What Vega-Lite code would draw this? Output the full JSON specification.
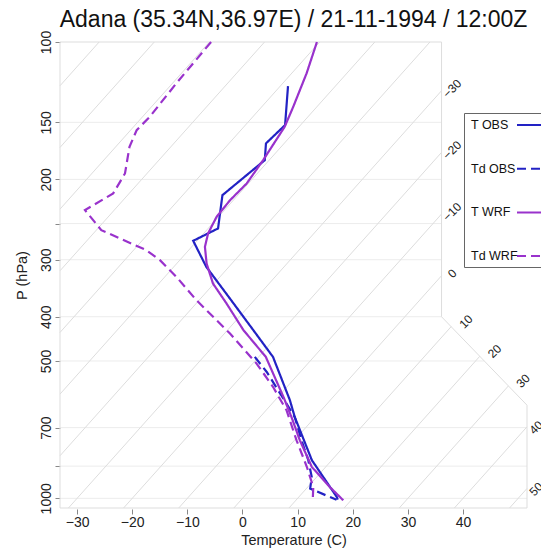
{
  "$schema": "https://vega.github.io/schema/vega-lite/v6.json",
  "width": 467,
  "height": 466,
  "autosize": {"type": "none"},
  "padding": {"left": 60, "top": 42, "right": 14, "bottom": 43},
  "title": {"text": "Adana (35.34N,36.97E) / 21-11-1994 / 12:00Z", "fontSize": 23, "font": "Liberation Sans", "fontWeight": "normal", "color": "#111111", "offset": -2, "anchor": "middle", "frame": "group"},
  "config": {
    "view": {"stroke": null},
    "font": "Liberation Sans",
    "axis": {"labelFont": "Liberation Sans", "titleFont": "Liberation Sans", "labelColor": "#222222", "titleColor": "#222222", "titleFontWeight": "normal", "labelFontSize": 14, "titleFontSize": 14.5, "grid": false, "domain": false, "tickColor": "#888888", "tickSize": 5, "labelFlush": false, "labelOverlap": false}
  },
  "datasets": {
    "frame": [
      {"i": 1, "xs": -33.1, "P": 1050},
      {"i": 2, "xs": -33.1, "P": 100},
      {"i": 3, "xs": 36.1, "P": 100},
      {"i": 4, "xs": 36.1, "P": 400},
      {"i": 5, "xs": 51.6, "P": 625},
      {"i": 6, "xs": 51.6, "P": 1050},
      {"i": 7, "xs": -33.1, "P": 1050}
    ],
    "isobars": [
      {"P": 1000, "xs": -33.1, "xs2": 51.6},
      {"P": 850, "xs": -33.1, "xs2": 51.6},
      {"P": 700, "xs": -33.1, "xs2": 51.6},
      {"P": 500, "xs": -33.1, "xs2": 43.85},
      {"P": 400, "xs": -33.1, "xs2": 36.1},
      {"P": 300, "xs": -33.1, "xs2": 36.1},
      {"P": 250, "xs": -33.1, "xs2": 36.1},
      {"P": 200, "xs": -33.1, "xs2": 36.1},
      {"P": 150, "xs": -33.1, "xs2": 36.1}
    ],
    "isotherms": [
      {"T": -100, "P": 124.7}, {"T": -100, "P": 100},
      {"T": -90, "P": 170.3}, {"T": -90, "P": 100},
      {"T": -80, "P": 232.4}, {"T": -80, "P": 100},
      {"T": -70, "P": 317.1}, {"T": -70, "P": 100},
      {"T": -60, "P": 433.1}, {"T": -60, "P": 100},
      {"T": -50, "P": 590.9}, {"T": -50, "P": 100},
      {"T": -40, "P": 806.5}, {"T": -40, "P": 100},
      {"T": -30, "P": 1050}, {"T": -30, "P": 127.9},
      {"T": -20, "P": 1050}, {"T": -20, "P": 174.5},
      {"T": -10, "P": 1050}, {"T": -10, "P": 238.2},
      {"T": 0, "P": 1050}, {"T": 0, "P": 325.1},
      {"T": 10, "P": 1050}, {"T": 10, "P": 420.4},
      {"T": 20, "P": 1050}, {"T": 20, "P": 488.3},
      {"T": 30, "P": 1050}, {"T": 30, "P": 567.1},
      {"T": 40, "P": 1050}, {"T": 40, "P": 697.2},
      {"T": 50, "P": 1050}, {"T": 50, "P": 951.4}
    ],
    "isolabels": [
      {"T": -30, "P": 127.9},
      {"T": -20, "P": 174.5},
      {"T": -10, "P": 238.2},
      {"T": 0, "P": 325.1},
      {"T": 10, "P": 420.4},
      {"T": 20, "P": 488.3},
      {"T": 30, "P": 567.1},
      {"T": 40, "P": 697.2},
      {"T": 50, "P": 951.4}
    ],
    "snd": [
      {"series": "T OBS", "P": 124.9, "T": -58.6},
      {"series": "T OBS", "P": 152.1, "T": -52.8},
      {"series": "T OBS", "P": 166.8, "T": -53.3},
      {"series": "T OBS", "P": 181.5, "T": -50.8},
      {"series": "T OBS", "P": 216.6, "T": -52.8},
      {"series": "T OBS", "P": 256.2, "T": -48.2},
      {"series": "T OBS", "P": 272.7, "T": -50.7},
      {"series": "T OBS", "P": 311.0, "T": -44.1},
      {"series": "T OBS", "P": 367.9, "T": -34.2},
      {"series": "T OBS", "P": 432.5, "T": -24.7},
      {"series": "T OBS", "P": 489.9, "T": -17.4},
      {"series": "T OBS", "P": 609.7, "T": -7.3},
      {"series": "T OBS", "P": 663.6, "T": -3.7},
      {"series": "T OBS", "P": 825.0, "T": 6.4},
      {"series": "T OBS", "P": 993.5, "T": 16.9},
      {"series": "T OBS", "P": 1007, "T": 17.5},
      {"series": "Td OBS", "P": 489.9, "T": -20.7},
      {"series": "Td OBS", "P": 528.5, "T": -16.1},
      {"series": "Td OBS", "P": 571.9, "T": -11.8},
      {"series": "Td OBS", "P": 619.8, "T": -7.4},
      {"series": "Td OBS", "P": 663.6, "T": -3.7},
      {"series": "Td OBS", "P": 746.3, "T": 1.3},
      {"series": "Td OBS", "P": 825.0, "T": 5.75},
      {"series": "Td OBS", "P": 898.0, "T": 9.1},
      {"series": "Td OBS", "P": 952.2, "T": 10.7},
      {"series": "Td OBS", "P": 1007.6, "T": 17.3},
      {"series": "T WRF", "P": 100, "T": -60.5},
      {"series": "T WRF", "P": 117.1, "T": -57.3},
      {"series": "T WRF", "P": 138.6, "T": -54.3},
      {"series": "T WRF", "P": 153.4, "T": -52.6},
      {"series": "T WRF", "P": 181.5, "T": -51.1},
      {"series": "T WRF", "P": 204.1, "T": -50.3},
      {"series": "T WRF", "P": 222.1, "T": -50.6},
      {"series": "T WRF", "P": 241.6, "T": -50.35},
      {"series": "T WRF", "P": 262.7, "T": -49.2},
      {"series": "T WRF", "P": 281.1, "T": -47.6},
      {"series": "T WRF", "P": 305.7, "T": -44.6},
      {"series": "T WRF", "P": 338.2, "T": -40.2},
      {"series": "T WRF", "P": 374.1, "T": -34.5},
      {"series": "T WRF", "P": 428.0, "T": -27.1},
      {"series": "T WRF", "P": 489.9, "T": -18.7},
      {"series": "T WRF", "P": 603.5, "T": -8.7},
      {"series": "T WRF", "P": 667.9, "T": -4.0},
      {"series": "T WRF", "P": 746.3, "T": 1.0},
      {"series": "T WRF", "P": 853.8, "T": 7.5},
      {"series": "T WRF", "P": 944.5, "T": 14.0},
      {"series": "T WRF", "P": 1010, "T": 18.6},
      {"series": "Td WRF", "P": 100, "T": -79.7},
      {"series": "Td WRF", "P": 123.2, "T": -79.3},
      {"series": "Td WRF", "P": 145.8, "T": -78.7},
      {"series": "Td WRF", "P": 156.0, "T": -78.9},
      {"series": "Td WRF", "P": 169.7, "T": -77.5},
      {"series": "Td WRF", "P": 194.1, "T": -74.0},
      {"series": "Td WRF", "P": 214.7, "T": -72.9},
      {"series": "Td WRF", "P": 233.6, "T": -75.3},
      {"series": "Td WRF", "P": 258.4, "T": -69.1},
      {"series": "Td WRF", "P": 285.8, "T": -57.7},
      {"series": "Td WRF", "P": 300.6, "T": -53.6},
      {"series": "Td WRF", "P": 327.1, "T": -47.9},
      {"series": "Td WRF", "P": 367.9, "T": -40.5},
      {"series": "Td WRF", "P": 407.0, "T": -33.6},
      {"series": "Td WRF", "P": 435.3, "T": -29.0},
      {"series": "Td WRF", "P": 506.6, "T": -19.3},
      {"series": "Td WRF", "P": 570.2, "T": -12.5},
      {"series": "Td WRF", "P": 641.2, "T": -6.3},
      {"series": "Td WRF", "P": 746.3, "T": 0.4},
      {"series": "Td WRF", "P": 853.8, "T": 6.6},
      {"series": "Td WRF", "P": 944.5, "T": 11.0},
      {"series": "Td WRF", "P": 995, "T": 12.6}
    ]
  },
  "encoding": {
    "x": {"field": "xs", "type": "quantitative", "scale": {"domain": [-33.1, 51.6], "nice": false, "zero": false},
      "axis": {"title": "Temperature (C)", "values": [-30, -20, -10, 0, 10, 20, 30, 40], "format": "d", "offset": 1, "labelPadding": 1, "titlePadding": 4}},
    "y": {"field": "P", "type": "quantitative", "scale": {"type": "log", "domain": [100, 1050], "reverse": true, "nice": false},
      "axis": {"title": "P (hPa)", "values": [100, 150, 200, 250, 300, 400, 500, 700, 850, 1000], "format": "d",
        "labelExpr": "datum.value == 250 || datum.value == 850 ? '' : datum.label",
        "labelAngle": -90, "labelAlign": "center", "labelBaseline": "bottom", "labelPadding": 2, "titlePadding": 10}}
  },
  "layer": [
    {"data": {"name": "isobars"}, "mark": {"type": "rule", "color": "#ececec", "strokeWidth": 1}, "encoding": {"x2": {"field": "xs2"}}},
    {"data": {"name": "isotherms"}, "transform": [{"calculate": "datum.T + 74*log(1000/datum.P)/LN10", "as": "xs"}],
      "mark": {"type": "line", "color": "#dddddd", "strokeWidth": 1}, "encoding": {"detail": {"field": "T", "type": "nominal"}}},
    {"data": {"name": "frame"}, "mark": {"type": "line", "color": "#dddddd", "strokeWidth": 1}, "encoding": {"order": {"field": "i", "type": "quantitative"}}},
    {"data": {"name": "isolabels"}, "transform": [{"filter": "datum.T <= 0"}, {"calculate": "datum.T + 74*log(1000/datum.P)/LN10", "as": "xs"}],
      "mark": {"type": "text", "angle": -45, "align": "center", "baseline": "middle", "dx": 9, "dy": 6, "fontSize": 12, "color": "#222222"},
      "encoding": {"text": {"field": "T", "type": "quantitative", "format": "d"}}},
    {"data": {"name": "isolabels"}, "transform": [{"filter": "datum.T > 0 && datum.T < 35"}, {"calculate": "datum.T + 74*log(1000/datum.P)/LN10", "as": "xs"}],
      "mark": {"type": "text", "angle": -45, "align": "center", "baseline": "middle", "dx": 14, "dy": 7, "fontSize": 12, "color": "#222222"},
      "encoding": {"text": {"field": "T", "type": "quantitative", "format": "d"}}},
    {"data": {"name": "isolabels"}, "transform": [{"filter": "datum.T > 35"}, {"calculate": "datum.T + 74*log(1000/datum.P)/LN10", "as": "xs"}],
      "mark": {"type": "text", "angle": -45, "align": "center", "baseline": "middle", "dx": 6, "dy": 7, "fontSize": 12, "color": "#222222"},
      "encoding": {"text": {"field": "T", "type": "quantitative", "format": "d"}}},
    {"data": {"values": [{}]}, "mark": {"type": "rule", "color": "#888888", "strokeWidth": 1},
      "encoding": {"x": {"datum": -30}, "x2": {"datum": 40}, "y": {"datum": 1050}}},
    {"data": {"values": [{}]}, "mark": {"type": "rule", "color": "#888888", "strokeWidth": 1},
      "encoding": {"x": {"datum": -33.1}, "y": {"datum": 100}, "y2": {"datum": 1000}}},
    {"data": {"name": "snd"}, "transform": [{"calculate": "datum.T + 74*log(1000/datum.P)/LN10", "as": "xs"}],
      "mark": {"type": "line", "strokeWidth": 2.2},
      "encoding": {
        "stroke": {"field": "series", "type": "nominal",
          "scale": {"domain": ["T OBS", "Td OBS", "T WRF", "Td WRF"], "range": ["#2222c4", "#2222c4", "#9932cc", "#9932cc"]},
          "legend": {"title": null, "orient": "none", "legendX": 404, "legendY": 71, "symbolType": "M0,0L5,0", "symbolSize": 196, "symbolStrokeWidth": 2, "symbolOffset": 41, "labelOffset": -54, "rowPadding": 28.7, "padding": 4, "strokeColor": "#666666", "fillColor": "white", "labelFontSize": 12.5, "labelColor": "#111111", "labelFont": "Liberation Sans", "labelLimit": 120}},
        "strokeDash": {"field": "series", "type": "nominal",
          "scale": {"domain": ["T OBS", "Td OBS", "T WRF", "Td WRF"], "range": [[1, 0], [9, 5], [1, 0], [9, 5]]},
          "legend": {"title": null, "orient": "none", "legendX": 404, "legendY": 71, "symbolType": "M0,0L5,0", "symbolSize": 196, "symbolStrokeWidth": 2, "symbolOffset": 41, "labelOffset": -54, "rowPadding": 28.7, "padding": 4, "strokeColor": "#666666", "fillColor": "white", "labelFontSize": 12.5, "labelColor": "#111111", "labelFont": "Liberation Sans", "labelLimit": 120}},
        "order": {"field": "P", "type": "quantitative"}
      }}
  ]
}
